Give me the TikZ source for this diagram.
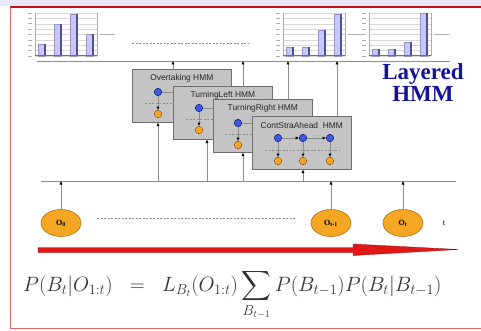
\documentclass[tikz,border=0pt]{standalone}
\usepackage{tikz}
\usetikzlibrary{positioning,arrows.meta,shapes.geometric}
\usepackage{amsmath}
\usepackage{fontspec}
\newfontfamily\arialfont{Liberation Sans}
\newfontfamily\timesfont{Liberation Serif}

\definecolor{hidblue}{HTML}{3B5BDB}
\definecolor{obsorange}{HTML}{F5A623}
\definecolor{obsedge}{HTML}{B07418}
\definecolor{boxgray}{HTML}{C4C4C4}
\definecolor{boxedge}{HTML}{6E6E6E}
\definecolor{linegray}{HTML}{8C8C8C}
\definecolor{gridgray}{HTML}{D8D8D8}
\definecolor{barfill}{HTML}{C8C8F6}
\definecolor{bardark}{HTML}{50509A}
\definecolor{redarrow}{HTML}{E01818}
\definecolor{framered}{HTML}{C81414}
\definecolor{framepink}{HTML}{E06A6A}
\definecolor{bandlav}{HTML}{E8E8F8}
\definecolor{titleblue}{HTML}{14149A}
\definecolor{formulagray}{HTML}{333333}

% one little probability chart: left x, then the four bar tops
\newcommand{\probchart}[5]{%
  \begin{scope}[shift={(#1,0)}]
    \fill[white] (0,13) rectangle (62,56);
    \foreach \k in {0,...,8}
      \draw[gridgray, line width=0.3pt] (0,{13+\k*5.375}) -- (62,{13+\k*5.375});
    \foreach \k in {0,...,8}
      \draw[linegray!70, line width=0.7pt] (-7,{13+\k*5.375}) -- (-3,{13+\k*5.375});
    \draw[gridgray!80!black, line width=0.3pt] (0,13) -- (0,56) (62,13) -- (62,56);
    \foreach \bx/\by in {3/#2,19/#3,35/#4,51/#5} {
      \fill[barfill] (\bx,\by) rectangle (\bx+7,56);
      \draw[bardark!60, line width=0.3pt] (\bx,\by) rectangle (\bx+7,56);
      \draw[bardark, line width=1.2pt] (\bx+7,\by) -- (\bx+7,56);
    }
    \draw[linegray!80!black, line width=1pt] (0,56) -- (62,56);
    \draw[linegray!70, line width=0.4pt] (65,34) -- (80,34);
  \end{scope}}

\begin{document}
\begin{tikzpicture}[x=1pt,y=-1pt,
		>={Latex[length=3.5pt,width=3.2pt,color=black]},
		link/.style={draw=linegray, line width=0.6pt},
		hmmbox/.style={rectangle, draw=boxedge, fill=boxgray, line width=0.6pt,
			minimum width=99pt, minimum height=53pt, inner sep=0pt, anchor=north west},
		hmmtitle/.style={font=\arialfont\fontsize{8.4}{10}\selectfont, text=black!85},
		hid/.style={circle, draw=blue!50!black, fill=hidblue, line width=0.4pt,
			minimum size=7.5pt, inner sep=0pt},
		obs/.style={circle, draw=orange!50!black, fill=obsorange, line width=0.4pt,
			minimum size=7.5pt, inner sep=0pt},
		evid/.style={ellipse, draw=obsedge, fill=obsorange, line width=0.6pt,
			minimum width=40pt, minimum height=27pt, inner sep=0pt,
			font=\timesfont\bfseries\fontsize{8}{9}\selectfont},
		gap/.style={draw=linegray, line width=0.6pt, dash pattern=on 2pt off 1.5pt}
		]
		\useasboundingbox (0,0) rectangle (481,331);
		\fill[bandlav] (0,0) rectangle (481,6);

		% belief charts
		\probchart{35}{44}{24}{14}{34}
		\probchart{283}{47}{47}{30}{14}
		\probchart{369}{49}{49}{42}{13}
		\draw[gap] (132,43) -- (248,43);

		% the two bus lines
		\coordinate (upL) at (37,61);
		\coordinate (upR) at (450,61);
		\coordinate (loL) at (41,181);
		\coordinate (loR) at (456,181);
		\draw[link] (upL) -- (upR);
		\draw[link] (loL) -- (loR);

		% Overtaking
		\node[hmmbox] (ovt) at (132,69) {};
		\node[hmmtitle] at ([yshift=-9pt]ovt.north) {Overtaking HMM};
		\node[hid] (ovtB) at (158,92) {};
		\node[obs] (ovtO) at (158,114) {};
		\draw[gap] (145,103) -- (231,103);
		\draw[link] (ovtB) -- (ovtB -| ovt.east);
		\draw[link, ->] (ovtB) -- (ovtO);

		% TurningLeft
		\node[hmmbox] (tleft) at (173,86) {};
		\node[hmmtitle] at ([yshift=-9pt]tleft.north) {TurningLeft HMM};
		\node[hid] (tleftB) at (199,108) {};
		\node[obs] (tleftO) at (199,130) {};
		\draw[gap] (186,119) -- (272,119);
		\draw[link] (tleftB) -- (tleftB -| tleft.east);
		\draw[link, ->] (tleftB) -- (tleftO);

		% TurningRight
		\node[hmmbox] (tright) at (213,99) {};
		\node[hmmtitle] at ([yshift=-9pt]tright.north) {TurningRight HMM};
		\node[hid] (trightB) at (238,123) {};
		\node[obs] (trightO) at (238,145) {};
		\draw[gap] (225,134) -- (312,134);
		\draw[link] (trightB) -- (trightB -| tright.east);
		\draw[link, ->] (trightB) -- (trightO);

		% ContStraAhead
		\node[hmmbox] (csa) at (252,116) {};
		\node[hmmtitle] at ([yshift=-9pt]csa.north) {ContStraAhead~ HMM};
		\node[hid] (csaB1) at (278,138) {};
		\node[hid] (csaB2) at (303,138) {};
		\node[hid] (csaB3) at (330,138) {};
		\node[obs] (csaO1) at (278,161) {};
		\node[obs] (csaO2) at (303,161) {};
		\node[obs] (csaO3) at (330,161) {};
		\draw[gap] (265,150) -- (340,150);
		\draw[link, ->] (csaB1) -- (csaB2);
		\draw[link, ->] (csaB2) -- (csaB3);
		\draw[link, ->] (csaB1) -- (csaO1);
		\draw[link, ->] (csaB2) -- (csaO2);
		\draw[link, ->] (csaB3) -- (csaO3);
		\draw[linegray!60, line width=0.5pt] (312,135.5) -- (322,135.5);
		\draw[linegray!60, line width=0.5pt] (334,147.5) -- (342,147.5);

		% layers up to the belief line
		\coordinate (u1) at (173,61);
		\coordinate (u2) at (243,61);
		\coordinate (u3) at (288,61);
		\coordinate (u4) at (337,61);
		\draw[link, ->] (ovt.north -| u1) -- (u1);
		\draw[link, ->] (tleft.north -| u2) -- (u2);
		\draw[link, ->] (tright.north -| u3) -- (u3);
		\draw[link, ->] (csa.north -| u4) -- (u4);

		% evidence line up to the layers
		\coordinate (l1) at (158,181);
		\coordinate (l2) at (207,181);
		\coordinate (l3) at (243,181);
		\coordinate (l4) at (303,181);
		\draw[link, ->] (l1) -- (l1 |- ovt.south);
		\draw[link, ->] (l2) -- (l2 |- tleft.south);
		\draw[link, ->] (l3) -- (l3 |- tright.south);
		\draw[link, ->] (l4) -- (l4 |- csa.south);

		% observations
		\node[evid] (o0) at (61,223) {O\textsubscript{0}};
		\node[evid] (ot1) at (331,223) {O\textsubscript{t-1}};
		\node[evid] (ot) at (403,223) {O\textsubscript{t}};
		\node[font=\timesfont\fontsize{8.5}{9}\selectfont] (tlab) at (444,223) {t};
		\draw[gap] (97,218) -- (295,218);
		\draw[link, ->] (o0) -- (o0 |- loL);
		\draw[link, ->] (ot1) -- (ot1 |- loL);
		\draw[link, ->] (ot) -- (ot |- loL);

		% time arrow
		\fill[redarrow, draw=red!60!black, line width=0.3pt]
			(38,247.5) -- (353,247.5) -- (353,244) -- (458,249.5)
			-- (353,255.5) -- (353,252.5) -- (38,252.5) -- cycle;

		% filtering equation
		\node[anchor=base west, inner sep=0pt, text=formulagray] (eq) at (23,291)
			{\fontsize{20.4}{24}\selectfont
			$\displaystyle P(B_t|O_{1:t})\;\;=\;\;L_{B_t}(O_{1:t})\sum_{B_{t-1}}P(B_{t-1})P(B_t|B_{t-1})$};

		\node[align=center, text=titleblue, font=\timesfont\bfseries\fontsize{23}{22}\selectfont]
			(lhmm) at (423,83) {Layered\\HMM};

		% frame
		\draw[framered, line width=2pt] (10,7.5) -- (481,7.5);
		\draw[framepink, line width=1.5pt] (10.5,7) -- (10.5,328.5) -- (481,328.5);
\end{tikzpicture}
\end{document}
